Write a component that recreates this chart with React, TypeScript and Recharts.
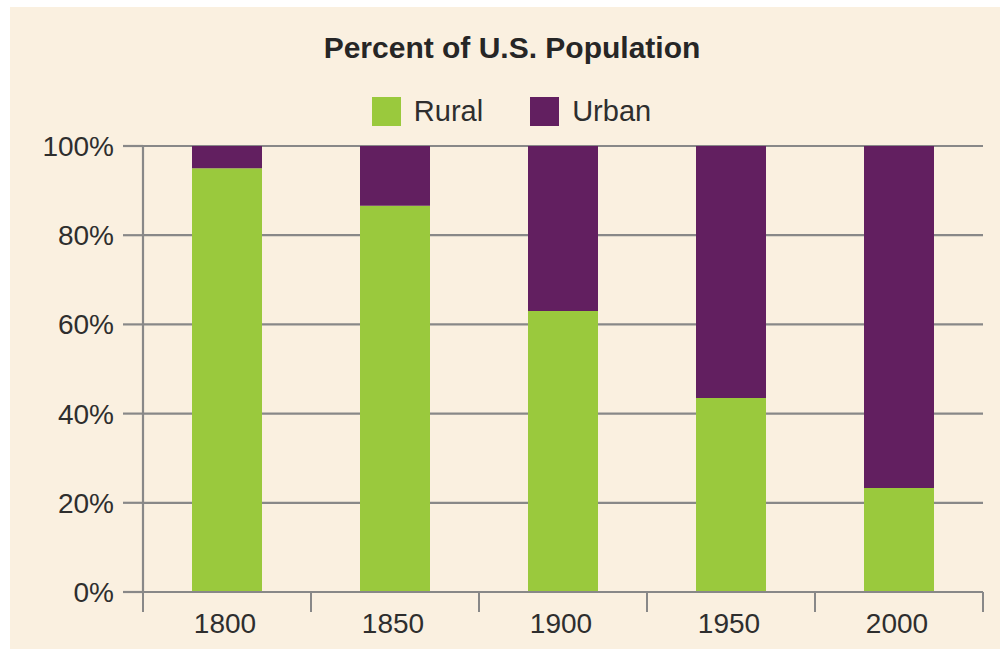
import React from "react";
import { BarChart, Bar, XAxis, YAxis, CartesianGrid, Legend } from "recharts";

const years = ["1800", "1850", "1900", "1950", "2000"];
const rural = [95, 86.6, 63, 43.5, 23.3];
const urban = [5, 13.4, 37, 56.5, 76.7];
const yTicks = [0, 20, 40, 60, 80, 100];

const data = years.map((year, i) => ({ year, Rural: rural[i], Urban: urban[i] }));

const CHART_W = 990;
const CHART_H = 642;
const MARGIN = { top: 139, right: 17, left: 0, bottom: 17 };
const Y_AXIS_W = 133;
const FONT = "'Liberation Sans', Arial, Helvetica, sans-serif";
const TEXT = "#2e2e2e";
const GRID = "#888888";
const GREEN = "#9ac93d";
const PURPLE = "#621f60";
const BG = "#faf0e0";

const halfBand = (CHART_W - MARGIN.left - MARGIN.right - Y_AXIS_W) / years.length / 2;

const XTick = (props: any) => {
  const { x, y, payload, index, visibleTicksCount } = props;
  const half = payload && typeof payload.offset === "number" && payload.offset > 0 ? payload.offset : halfBand;
  const top = y - 21;
  const bottom = y - 1;
  const isLast = index === (visibleTicksCount ?? years.length) - 1;
  return (
    <g>
      <line x1={x - half} x2={x - half} y1={top} y2={bottom} stroke={GRID} strokeWidth={2} />
      {isLast && <line x1={x + half} x2={x + half} y1={top} y2={bottom} stroke={GRID} strokeWidth={2} />}
      <text x={x - 2} y={y} dy="0.71em" textAnchor="middle" fill={TEXT} fontSize={28} fontFamily={FONT}>
        {payload.value}
      </text>
    </g>
  );
};

const LegendContent = (props: any) => {
  const { payload } = props;
  return (
    <div style={{ display: "flex", justifyContent: "center", alignItems: "center", fontFamily: FONT }}>
      {(payload || []).map((entry: any, i: number) => (
        <div key={entry.value} style={{ display: "flex", alignItems: "center", marginLeft: i === 0 ? 0 : 47 }}>
          <div style={{ width: 29, height: 29, background: entry.color }} />
          <span style={{ marginLeft: 13, fontSize: 29, color: TEXT, lineHeight: "29px" }}>{entry.value}</span>
        </div>
      ))}
    </div>
  );
};

export default function App() {
  return (
    <div style={{ position: "absolute", left: 10, top: 7, width: CHART_W, height: CHART_H, background: BG }}>
      <div
        style={{
          position: "absolute",
          left: 0,
          width: 1004,
          top: 26,
          textAlign: "center",
          fontFamily: FONT,
          fontWeight: "bold",
          fontSize: 30,
          lineHeight: "30px",
          color: "#262626",
        }}
      >
        Percent of U.S. Population
      </div>
      <BarChart width={CHART_W} height={CHART_H} data={data} margin={MARGIN}>
        <CartesianGrid horizontal vertical={false} stroke={GRID} strokeWidth={2.2} />
        <XAxis
          dataKey="year"
          height={40}
          axisLine={{ stroke: GRID, strokeWidth: 2.2 }}
          tickLine={false}
          tickSize={20}
          tickMargin={1}
          tick={<XTick />}
          interval={0}
        />
        <YAxis
          width={Y_AXIS_W}
          domain={[0, 100]}
          ticks={yTicks}
          tickFormatter={(v: number) => `${v}%`}
          axisLine={{ stroke: GRID, strokeWidth: 2.2 }}
          tickLine={{ stroke: GRID, strokeWidth: 2.2 }}
          tickSize={20}
          tickMargin={9}
          tick={{ fill: TEXT, fontSize: 28, fontFamily: FONT }}
          allowDataOverflow
        />
        <Legend
          verticalAlign="middle"
          align="center"
          layout="horizontal"
          content={<LegendContent />}
          wrapperStyle={{ top: 90, left: 0, width: 1003 }}
        />
        <Bar dataKey="Rural" stackId="a" fill={GREEN} barSize={70} isAnimationActive={false} />
        <Bar dataKey="Urban" stackId="a" fill={PURPLE} barSize={70} isAnimationActive={false} />
      </BarChart>
    </div>
  );
}
